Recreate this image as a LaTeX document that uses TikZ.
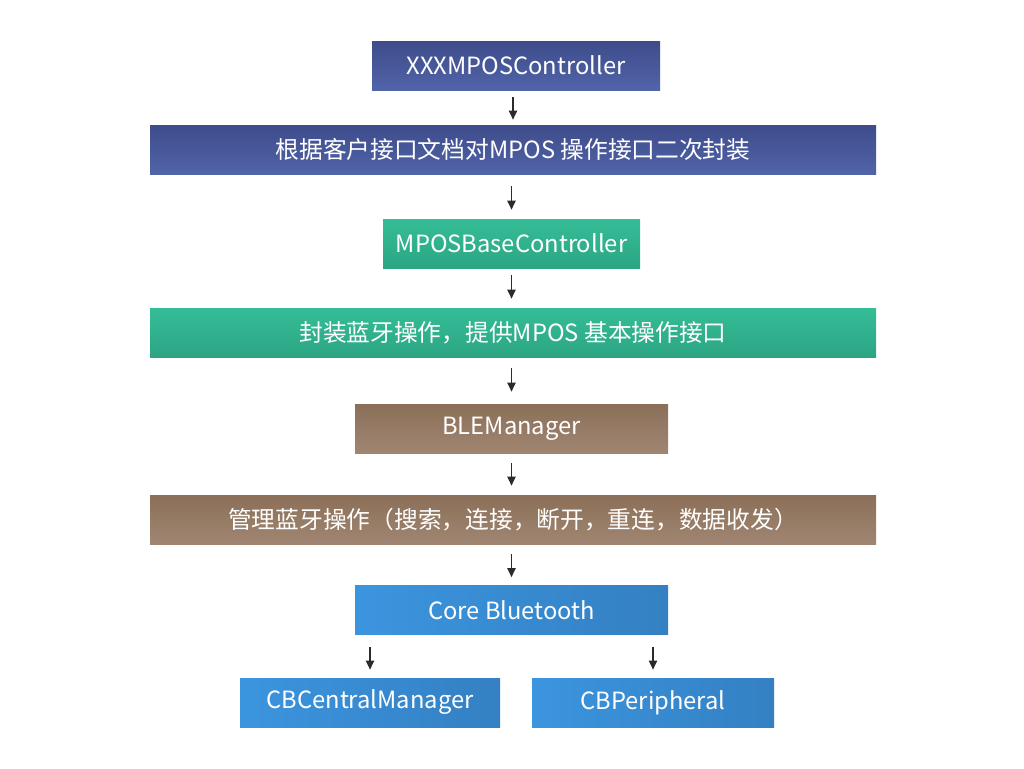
\documentclass[tikz,border=0pt]{standalone}
\usepackage{fontspec}
\setmainfont{Noto Sans CJK SC}
\usepackage{tikz}
\usetikzlibrary{positioning,calc,arrows.meta}
\definecolor{navytop}{HTML}{3E4C8A}
\definecolor{navybot}{HTML}{5064A8}
\definecolor{greentop}{HTML}{35BD98}
\definecolor{greenbot}{HTML}{2CA583}
\definecolor{browntop}{HTML}{8B6F58}
\definecolor{brownbot}{HTML}{A08672}
\definecolor{skyleft}{HTML}{3B95DE}
\definecolor{skyright}{HTML}{3480C3}
\definecolor{arrowgray}{HTML}{2B2B2B}

\begin{document}
\begin{tikzpicture}[x=0.75pt,y=-0.75pt,
                box/.style={rectangle,minimum height=36.75pt,inner sep=0pt,text=white,
                            font=\fontsize{17.8}{20}\selectfont},
                navy box/.style={box,top color=navytop,bottom color=navybot},
                green box/.style={box,top color=greentop,bottom color=greenbot},
                brown box/.style={box,top color=browntop,bottom color=brownbot},
                sky box/.style={box,left color=skyleft,right color=skyright},
                flow/.style={-{Triangle[length=6.75pt,width=6pt]},line width=1.4pt,color=arrowgray},
                gap/.style 2 args={shorten <=#1*0.75pt,shorten >=#2*0.75pt}]
\useasboundingbox (0,0) rectangle (1024,768);
%Nodes
    \node[navy box, minimum width=216pt] (XXX) at (516,65.5) {XXXMPOSController};
    \node[navy box, minimum width=544.5pt] (XXXdesc) at (513,149.5) {根据客户接口文档对MPOS 操作接口二次封装};
    \node[green box, minimum width=192.75pt] (Base) at (511.5,243.5) {MPOSBaseController};
    \node[green box, minimum width=544.5pt] (Basedesc) at (513,332.5) {封装蓝牙操作，提供MPOS 基本操作接口};
    \node[brown box, minimum width=234.75pt] (BLE) at (511.5,428.5) {BLEManager};
    \node[brown box, minimum width=544.5pt] (BLEdesc) at (513,519.5) {管理蓝牙操作（搜索，连接，断开，重连，数据收发）};
    \node[sky box, minimum width=234.75pt] (Core) at (511.5,610) {Core Bluetooth};
    \node[sky box, minimum width=195pt] (Central) at (370,702.5) {CBCentralManager};
    \node[sky box, minimum width=181.5pt] (Periph) at (653,702.5) {CBPeripheral};

    \draw[flow, gap={7}{5}] (XXX.south -| XXXdesc.north) -- (XXXdesc.north);
    \draw[flow, gap={12}{9}] (XXXdesc.south -| Base.north) -- (Base.north);
    \draw[flow, gap={7}{9}] (Base.south) -- (Basedesc.north -| Base.south);
    \draw[flow, gap={11}{12}] (Basedesc.south -| BLE.north) -- (BLE.north);
    \draw[flow, gap={10}{9}] (BLE.south) -- (BLEdesc.north -| BLE.south);
    \draw[flow, gap={10}{8}] (BLEdesc.south -| Core.north) -- (Core.north);
    \draw[flow, gap={12}{8}] (Core.south -| Central.north) -- (Central.north);
    \draw[flow, gap={12}{8}] (Core.south -| Periph.north) -- (Periph.north);
\end{tikzpicture}
\end{document}
